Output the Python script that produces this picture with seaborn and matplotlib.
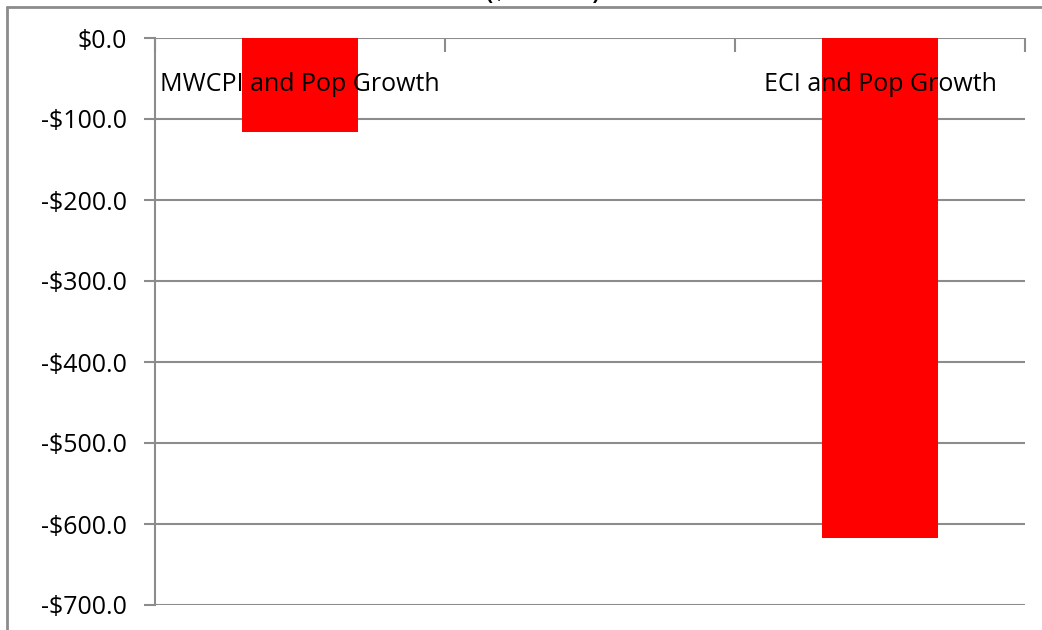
import numpy as np
import pandas as pd
import matplotlib
matplotlib.use("Agg")
import matplotlib.pyplot as plt
from matplotlib.lines import Line2D
import seaborn as sns

categories = ["MWCPI and Pop Growth", "", "ECI and Pop Growth"]
values = [-115.7, np.nan, -617.0]
yticks = [0, -100, -200, -300, -400, -500, -600, -700]
title = "($ Millions)"

sns.set_theme(style="white")
plt.rcParams['font.family'] = ['Open Sans', 'DejaVu Sans']

fig = plt.figure(figsize=(10.42, 6.30), dpi=100)
ax = fig.add_axes([155/1042, 1 - 605/630, (1025 - 155)/1042, (605 - 38)/630])

df = pd.DataFrame({"cat": categories, "val": values})
sns.barplot(data=df, x="cat", y="val", color="#FF0000", width=0.4,
            saturation=1, ax=ax, zorder=2, order=categories, linewidth=0)

ax.set_ylim(-700, 0)
ax.set_xlim(-0.5, 2.5)
ax.set_xlabel("")
ax.set_ylabel("")

grid_c = "#8c8c8c"
for v in yticks:
    ax.axhline(v, color=grid_c, lw=1.5, zorder=1)

ax.set_yticks(yticks)
ax.set_yticklabels([("-" if v < 0 else "") + "${:.1f}".format(abs(v)) for v in yticks],
                   fontsize=18, color="black")
ax.tick_params(axis='y', direction='out', length=8, width=1.5, color=grid_c, pad=12, left=True)

ax.xaxis.set_ticks_position('top')
ax.set_xticks([-0.5, 0.5, 1.5, 2.5])
ax.set_xticklabels([])
ax.tick_params(axis='x', direction='in', length=10, width=1.5, color=grid_c, top=True, bottom=False)

for s in ['right', 'bottom', 'top']:
    ax.spines[s].set_visible(False)
ax.spines['left'].set_color(grid_c)
ax.spines['left'].set_linewidth(1.5)

for i, c in enumerate(categories):
    if c:
        ax.text(i, -58, c, ha='center', va='center', fontsize=18, color='black', zorder=3)

# outer chart frame (partly cropped)
fig.add_artist(Line2D([7/1042, 7/1042], [0, 1 - 7/630], transform=fig.transFigure,
                      color=grid_c, lw=2))
fig.add_artist(Line2D([7/1042, 1.0], [1 - 7/630, 1 - 7/630], transform=fig.transFigure,
                      color=grid_c, lw=2))

fig.text(543/1042, 1 + 1/630, title, ha='center', va='baseline',
         fontsize=15, fontweight='bold', color='black')

fig.savefig("out.png", dpi=100, facecolor="white")
